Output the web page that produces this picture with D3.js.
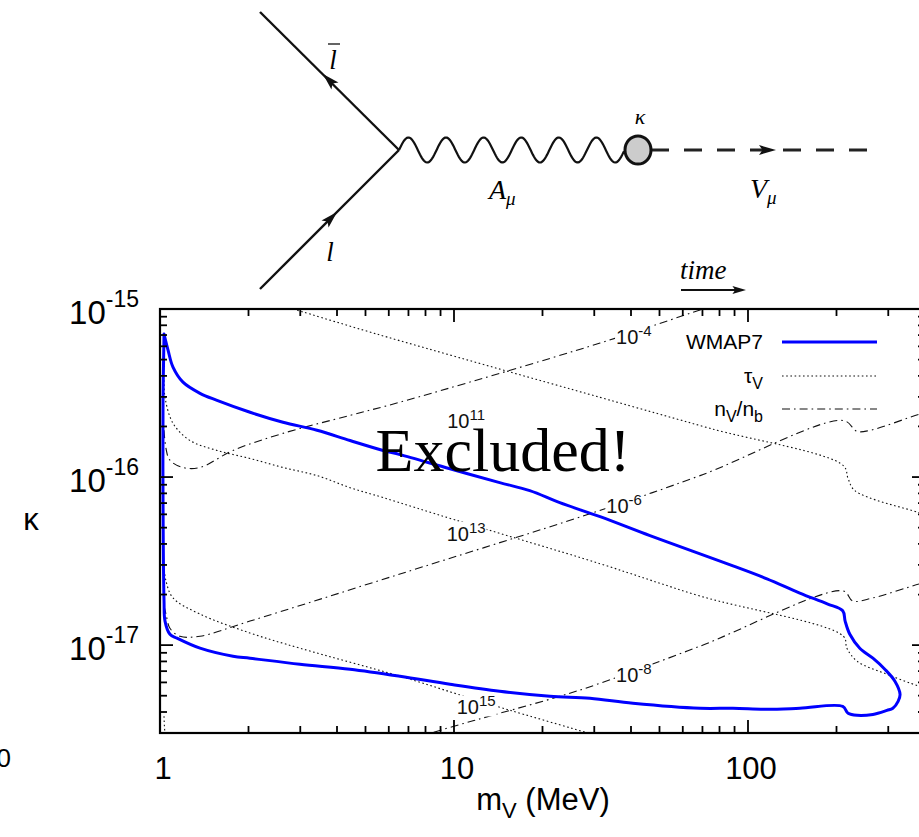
<!DOCTYPE html>
<html>
<head>
<meta charset="utf-8">
<script src="https://cdn.jsdelivr.net/npm/d3@7"></script>
<style>
body { margin: 0; background: #fff; }
svg { display: block; }
</style>
</head>
<body>
<svg id="chart" width="919" height="837"></svg>
<script>
// ---- data: [m_V (MeV), kappa] ----
// WMAP7 excluded region (closed contour)
var wmap7 = [
  [1.032, 7.09e-16], [1.065, 5.69e-16], [1.107, 4.51e-16], [1.197, 3.67e-16], [1.368, 3.15e-16],
  [1.563, 2.86e-16], [2.024, 2.43e-16], [2.62, 2.12e-16], [3.42, 1.90e-16], [4.43, 1.65e-16],
  [5.74, 1.44e-16], [6.55, 1.36e-16], [9.69, 1.12e-16], [14.3, 9.27e-17], [18.1, 8.30e-17],
  [22.9, 7.04e-17], [31.4, 5.81e-17], [46.4, 4.48e-17], [68.7, 3.49e-17], [88.9, 2.96e-17],
  [116, 2.48e-17], [150, 2.04e-17], [186, 1.76e-17], [210, 1.60e-17],
  [214, 1.39e-17], [222, 1.16e-17], [240, 9.59e-18], [266, 8.36e-18], [292, 7.19e-18],
  [316, 6.10e-18], [329, 5.09e-18], [324, 4.63e-18], [311, 4.21e-18], [297, 4.09e-18],
  [266, 3.87e-18], [235, 3.82e-18], [219, 3.93e-18], [210, 4.32e-18],
  [150, 4.21e-18], [116, 4.15e-18], [88.9, 4.21e-18], [68.7, 4.21e-18], [40.6, 4.51e-18],
  [29.0, 4.83e-18], [21.2, 4.96e-18], [14.3, 5.31e-18], [9.69, 5.85e-18], [6.55, 6.53e-18],
  [4.43, 7.19e-18], [2.99, 7.70e-18], [2.024, 8.36e-18], [1.771, 8.59e-18], [1.368, 9.59e-18],
  [1.142, 1.10e-17], [1.081, 1.16e-17], [1.040, 1.39e-17], [1.032, 1.83e-17],
  [1.024, 7.24e-17], [1.024, 2.86e-16], [1.032, 7.09e-16]
];

// lifetime contours tau_V
var tau11 = [
  [2.84, 1.0e-15], [5.47, 7.09e-16], [31.4, 2.98e-16], [74.2, 1.95e-16], [211, 1.17e-16],
  [219, 9.8e-17], [231, 8.3e-17], [382, 6.14e-17], [420, 5.8e-17]
];
var tau13 = [
  [1.032, 3.77e-16], [1.040, 2.98e-16], [1.107, 2.09e-16], [1.265, 1.65e-16], [1.563, 1.44e-16],
  [2.024, 1.29e-16], [2.62, 1.14e-16], [3.42, 1.02e-16], [4.43, 8.65e-17], [5.74, 7.55e-17],
  [10.06, 5.57e-17], [31.4, 3.05e-17], [68.7, 1.96e-17], [211, 1.13e-17], [217, 9.59e-18],
  [235, 8.02e-18], [297, 6.71e-18], [382, 5.69e-18], [420, 5.4e-18]
];
var tau15 = [
  [1.032, 2.96e-17], [1.048, 2.41e-17], [1.107, 1.91e-17], [1.368, 1.53e-17], [2.024, 1.18e-17],
  [2.99, 9.59e-18], [6.55, 6.53e-18], [10.06, 5.17e-18], [14.0, 4.32e-18], [31.4, 2.86e-18]
];
var tau17 = [
  [1.032, 3.77e-18], [1.056, 2.49e-18], [1.125, 2.03e-18]
];

// relic abundance contours n_V/n_b
var ratio4 = [
  [1.032, 1.90e-16], [1.048, 1.48e-16], [1.081, 1.26e-16], [1.197, 1.14e-16], [1.368, 1.14e-16],
  [1.771, 1.44e-16], [2.62, 1.82e-16], [4.43, 2.33e-16], [6.55, 2.79e-16], [31.4, 6.27e-16],
  [68.7, 9.86e-16], [80.3, 1.07e-15]
];
var ratio6 = [
  [1.032, 1.71e-17], [1.048, 1.53e-17], [1.081, 1.26e-17], [1.169, 1.13e-17], [1.368, 1.13e-17],
  [2.024, 1.39e-17], [6.55, 2.65e-17], [29.0, 6.05e-17], [68.7, 1.02e-16], [211, 2.17e-16],
  [235, 1.87e-16], [261, 1.90e-16], [382, 2.36e-16], [420, 2.45e-16]
];
var ratio8 = [
  [6.55, 2.64e-18], [9.93, 3.28e-18], [14.3, 3.93e-18], [22.9, 4.96e-18], [31.4, 5.93e-18],
  [68.7, 9.86e-18], [211, 2.10e-17], [227, 1.83e-17], [266, 1.91e-17], [382, 2.31e-17],
  [420, 2.4e-17]
];

// contour labels: exponent and anchor (m, kappa)
var contourLabels = [
  { exp: "11", m: 11.0, k: 1.95e-16 },
  { exp: "13", m: 11.0, k: 4.18e-17 },
  { exp: "15", m: 11.9, k: 3.87e-18 },
  { exp: "-4", m: 40.9, k: 6.18e-16 },
  { exp: "-6", m: 37.9, k: 6.14e-17 },
  { exp: "-8", m: 40.9, k: 6.01e-18 }
];

var xMajor = [1, 10, 100];
var xLabels = ["1", "10", "100"];
var yMajor = [1e-17, 1e-16, 1e-15];
var yExponents = ["-17", "-16", "-15"];

// ---- layout ----
var plot = { left: 160, top: 309, right: 925, bottom: 733 };
var svg = d3.select("#chart");

var x = d3.scaleLog().domain([1, 400]).range([plot.left, plot.right]);
var y = d3.scaleLog().domain([3e-18, 1e-15]).range([plot.bottom, plot.top]);

svg.append("defs").append("clipPath").attr("id", "plotClip")
  .append("rect")
  .attr("x", plot.left).attr("y", plot.top)
  .attr("width", plot.right - plot.left).attr("height", plot.bottom - plot.top);

var sans = "Liberation Sans, Arial, Helvetica, sans-serif";
var serif = "Liberation Serif, Times New Roman, serif";

// ---- Feynman diagram ----
var fd = svg.append("g").attr("class", "diagram");
var vertex = [399, 150];
var blob = [638, 150];

fd.append("line").attr("x1", 260).attr("y1", 12).attr("x2", vertex[0]).attr("y2", vertex[1])
  .attr("stroke", "#111").attr("stroke-width", 2.4);
fd.append("line").attr("x1", 260).attr("y1", 289).attr("x2", vertex[0]).attr("y2", vertex[1])
  .attr("stroke", "#111").attr("stroke-width", 2.4);

// photon wiggle
var wave = d3.range(0, 225.5, 1).map(function(t) {
  return [vertex[0] + t, vertex[1] - 12.5 * Math.sin(2 * Math.PI * t / 37.6)];
});
fd.append("path").attr("d", d3.line()(wave))
  .attr("fill", "none").attr("stroke", "#111").attr("stroke-width", 2.2);

// dark photon dashed line
fd.append("line").attr("x1", blob[0] + 13).attr("y1", blob[1]).attr("x2", 877).attr("y2", blob[1])
  .attr("stroke", "#222").attr("stroke-width", 3).attr("stroke-dasharray", "18,15");

fd.append("ellipse").attr("cx", blob[0]).attr("cy", blob[1]).attr("rx", 13).attr("ry", 14)
  .attr("fill", "#cccccc").attr("stroke", "#111").attr("stroke-width", 3);

function arrowHead(g, cx, cy, angle, size) {
  g.append("path")
    .attr("d", "M" + size + ",0 L" + (-size * 0.7) + "," + (-size * 0.5) +
      " L" + (-size * 0.35) + ",0 L" + (-size * 0.7) + "," + (size * 0.5) + " Z")
    .attr("transform", "translate(" + cx + "," + cy + ") rotate(" + angle + ")")
    .attr("fill", "#111");
}
var upAngle = Math.atan2(12 - 150, 260 - 399) * 180 / Math.PI;
var inAngle = Math.atan2(150 - 289, 399 - 260) * 180 / Math.PI;
arrowHead(fd, 330, 81, upAngle, 10);
arrowHead(fd, 330, 219, inAngle, 10);
arrowHead(fd, 766, 150, 0, 10);

// diagram labels
fd.append("text").attr("x", 333).attr("y", 69).attr("text-anchor", "middle")
  .attr("font-family", serif).attr("font-style", "italic").attr("font-size", 27).text("l");
fd.append("line").attr("x1", 328).attr("x2", 340).attr("y1", 44).attr("y2", 44)
  .attr("stroke", "#222").attr("stroke-width", 1.4);
fd.append("text").attr("x", 330).attr("y", 261).attr("text-anchor", "middle")
  .attr("font-family", serif).attr("font-style", "italic").attr("font-size", 27).text("l");
fd.append("text").attr("x", 640).attr("y", 124).attr("text-anchor", "middle")
  .attr("font-family", serif).attr("font-style", "italic").attr("font-size", 22).text("κ");

var aLab = fd.append("text").attr("x", 489).attr("y", 199)
  .attr("font-family", serif).attr("font-style", "italic").attr("font-size", 28);
aLab.append("tspan").text("A");
aLab.append("tspan").attr("dy", 6).attr("font-size", 19).text("μ");
var vLab = fd.append("text").attr("x", 750).attr("y", 198)
  .attr("font-family", serif).attr("font-style", "italic").attr("font-size", 28);
vLab.append("tspan").text("V");
vLab.append("tspan").attr("dy", 6).attr("font-size", 19).text("μ");

fd.append("text").attr("x", 680).attr("y", 279)
  .attr("font-family", serif).attr("font-style", "italic").attr("font-size", 27).text("time");
fd.append("line").attr("x1", 681).attr("x2", 736).attr("y1", 290).attr("y2", 290)
  .attr("stroke", "#111").attr("stroke-width", 1.8);
arrowHead(fd, 738, 290, 0, 8);

// ---- curves ----
var line = d3.line()
  .x(function(d) { return x(d[0]); })
  .y(function(d) { return y(d[1]); })
  .curve(d3.curveCatmullRom.alpha(0.5));

var curves = svg.append("g").attr("clip-path", "url(#plotClip)");

[tau11, tau13, tau15, tau17].forEach(function(c) {
  curves.append("path").attr("d", line(c))
    .attr("fill", "none").attr("stroke", "#111").attr("stroke-width", 1.1)
    .attr("stroke-dasharray", "1.6,2.6");
});
[ratio4, ratio6, ratio8].forEach(function(c) {
  curves.append("path").attr("d", line(c))
    .attr("fill", "none").attr("stroke", "#111").attr("stroke-width", 1.1)
    .attr("stroke-dasharray", "8,4,1.6,4");
});

// contour labels with a white gap behind them
contourLabels.forEach(function(l) {
  var g = curves.append("g");
  var t = g.append("text")
    .attr("x", x(l.m)).attr("y", y(l.k))
    .attr("text-anchor", "middle")
    .attr("font-family", sans).attr("font-size", 20).attr("fill", "#111");
  t.append("tspan").text("10");
  t.append("tspan").attr("dy", -8).attr("font-size", 15).text(l.exp);
  var bb = t.node().getBBox();
  g.insert("rect", "text")
    .attr("x", bb.x - 1).attr("y", bb.y + 3)
    .attr("width", bb.width + 2).attr("height", bb.height - 5)
    .attr("fill", "#fff");
});

curves.append("path").attr("d", line.curve(d3.curveCatmullRomClosed.alpha(0.5))(wmap7))
  .attr("fill", "none").attr("stroke", "#0000ff").attr("stroke-width", 3)
  .attr("stroke-linejoin", "round");

// ---- frame and ticks ----
var axes = svg.append("g").attr("stroke", "#000").attr("stroke-width", 1.8);
function isMajor(v) {
  var l = Math.log10(v);
  return Math.abs(l - Math.round(l)) < 1e-6;
}
x.ticks().forEach(function(v) {
  var len = isMajor(v) ? 13 : 7;
  var px = x(v);
  axes.append("line").attr("x1", px).attr("x2", px).attr("y1", plot.bottom).attr("y2", plot.bottom - len);
  axes.append("line").attr("x1", px).attr("x2", px).attr("y1", plot.top).attr("y2", plot.top + len);
});
y.ticks().forEach(function(v) {
  var len = isMajor(v) ? 13 : 7;
  var py = y(v);
  axes.append("line").attr("x1", plot.left).attr("x2", plot.left + len).attr("y1", py).attr("y2", py);
  axes.append("line").attr("x1", plot.right).attr("x2", plot.right - len).attr("y1", py).attr("y2", py);
});
axes.append("rect")
  .attr("x", plot.left).attr("y", plot.top)
  .attr("width", plot.right - plot.left).attr("height", plot.bottom - plot.top)
  .attr("fill", "none").attr("stroke-width", 2.2);

// tick labels
xMajor.forEach(function(v, i) {
  svg.append("text").attr("x", x(v) + 3).attr("y", 779)
    .attr("text-anchor", "middle").attr("font-family", sans).attr("font-size", 31)
    .text(xLabels[i]);
});
yMajor.forEach(function(v, i) {
  var t = svg.append("text").attr("x", 139).attr("y", y(v) + 15)
    .attr("text-anchor", "end").attr("font-family", sans).attr("font-size", 33);
  t.append("tspan").text("10");
  t.append("tspan").attr("dy", -17).attr("font-size", 23).text(yExponents[i]);
});

// stray label from neighbouring panel
svg.append("text").attr("x", 11).attr("y", 767).attr("text-anchor", "end")
  .attr("font-family", sans).attr("font-size", 26).text("0");

// axis titles
var xt = svg.append("text").attr("x", 543).attr("y", 810).attr("text-anchor", "middle")
  .attr("font-family", sans).attr("font-size", 31);
xt.append("tspan").text("m");
xt.append("tspan").attr("dy", 8).attr("font-size", 22).text("V");
xt.append("tspan").attr("dy", -8).text(" (MeV)");

svg.append("text").attr("x", 31).attr("y", 530).attr("text-anchor", "middle")
  .attr("font-family", sans).attr("font-size", 31).text("κ");

// big annotation
svg.append("text").attr("x", 503).attr("y", 471).attr("text-anchor", "middle")
  .attr("font-family", serif).attr("font-size", 62).text("Excluded!");

// ---- legend ----
var legend = [
  { name: "WMAP7", sub: null, color: "#0000ff", width: 3, dash: null },
  { name: "τ", sub: "V", color: "#111", width: 1.1, dash: "1.6,2.6" },
  { name: "n", sub: "V", tail: "/n", tailSub: "b", color: "#111", width: 1.1, dash: "8,4,1.6,4" }
];
var legendY = [342, 376, 409];
legend.forEach(function(d, i) {
  var t = svg.append("text").attr("x", 763).attr("y", legendY[i] + 7)
    .attr("text-anchor", "end").attr("font-family", sans).attr("font-size", 21);
  t.append("tspan").text(d.name);
  if (d.sub) t.append("tspan").attr("dy", 6).attr("font-size", 16).text(d.sub);
  if (d.tail) {
    t.append("tspan").attr("dy", -6).text(d.tail);
    t.append("tspan").attr("dy", 6).attr("font-size", 16).text(d.tailSub);
  }
  svg.append("line").attr("x1", 782).attr("x2", 877)
    .attr("y1", legendY[i]).attr("y2", legendY[i])
    .attr("stroke", d.color).attr("stroke-width", d.width)
    .attr("stroke-dasharray", d.dash);
});
</script>
</body>
</html>
